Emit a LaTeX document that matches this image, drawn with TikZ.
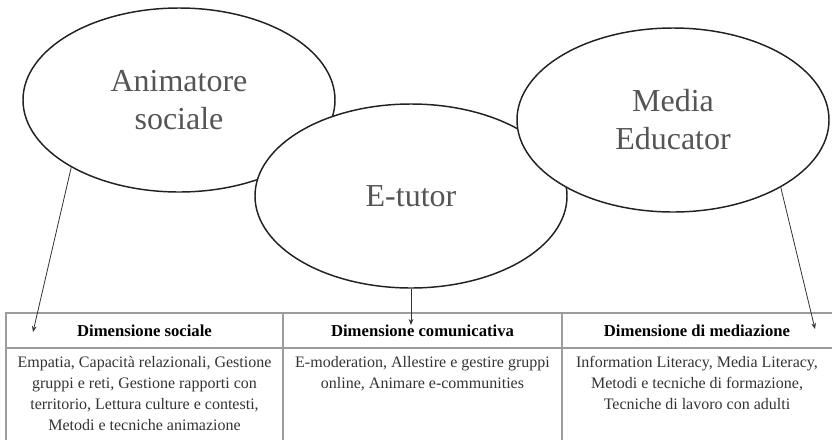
\documentclass[tikz,border=0pt]{standalone}
\usepackage{fontspec}
\setmainfont{Liberation Serif}
\usetikzlibrary{arrows.meta, shapes.geometric}
\definecolor{rimgray}{HTML}{222222}
\definecolor{labgray}{HTML}{555555}
\definecolor{rulegray}{HTML}{9C9C9C}
\definecolor{inkgray}{HTML}{333333}

\tikzset{
  role/.style={ellipse, draw=rimgray, line width=1.1pt, fill=white,
    minimum width=234pt, minimum height=138pt, inner sep=0pt, align=center,
    text=labgray, font=\fontsize{24}{28.5}\selectfont},
  head/.style={font=\fontsize{12.5}{14}\selectfont\bfseries, text=black},
  body/.style={font=\fontsize{12}{15.75}\selectfont, text=inkgray,
    align=center, anchor=north, inner sep=0pt},
  link/.style={draw=inkgray, line width=0.6pt, -{Stealth[length=4.5pt, width=3.5pt]}},
  rule/.style={draw=rulegray, line width=0.9pt}
}

\begin{document}
\begin{tikzpicture}[x=0.75pt, y=-0.75pt]

% Canvas: 832 x 440 px, y grows downwards
\useasboundingbox (0,0) rectangle (832,440);

% Table grid (open on the right and at the bottom)
\draw[rule] (6,440) -- (6,313) -- (832,313);
\draw[rule] (6,348) -- (832,348);
\draw[rule] (283,313) -- (283,440);
\draw[rule] (562,313) -- (562,440);

% Header row
\node[head] (hsoc) at (144.5,331) {Dimensione sociale};
\node[head] (hcom) at (422.5,331) {Dimensione comunicativa};
\node[head] (hmed) at (697,331) {Dimensione di mediazione};

% Body row
\node[body] (bsoc) at (144.5,356) {Empatia, Capacità relazionali, Gestione\\
  gruppi e reti, Gestione rapporti con\\
  territorio, Lettura culture e contesti,\\
  Metodi e tecniche animazione};
\node[body] (bcom) at (422.5,356) {E-moderation, Allestire e gestire gruppi\\
  online, Animare e-communities};
\node[body] (bmed) at (697,356) {Information Literacy, Media Literacy,\\
  Metodi e tecniche di formazione,\\
  Tecniche di lavoro con adulti};

% The three roles (later ones overlap earlier ones)
\node[role] (anim) at (179,100) {Animatore\\sociale};
\node[role] (etutor) at (411,196) {E-tutor};
\node[role] (media) at (673,120) {Media\\Educator};

% Arrow ends inside the header cells
\coordinate (soctip) at (33,332);
\coordinate (comtip) at (411,325);
\coordinate (medtip) at (815,329);

% Links from roles to dimensions
\draw[link] (anim.212) -- (soctip);
\draw[link] (etutor.south) -- (comtip);
\draw[link] (media.328) -- (medtip);

\end{tikzpicture}
\end{document}
